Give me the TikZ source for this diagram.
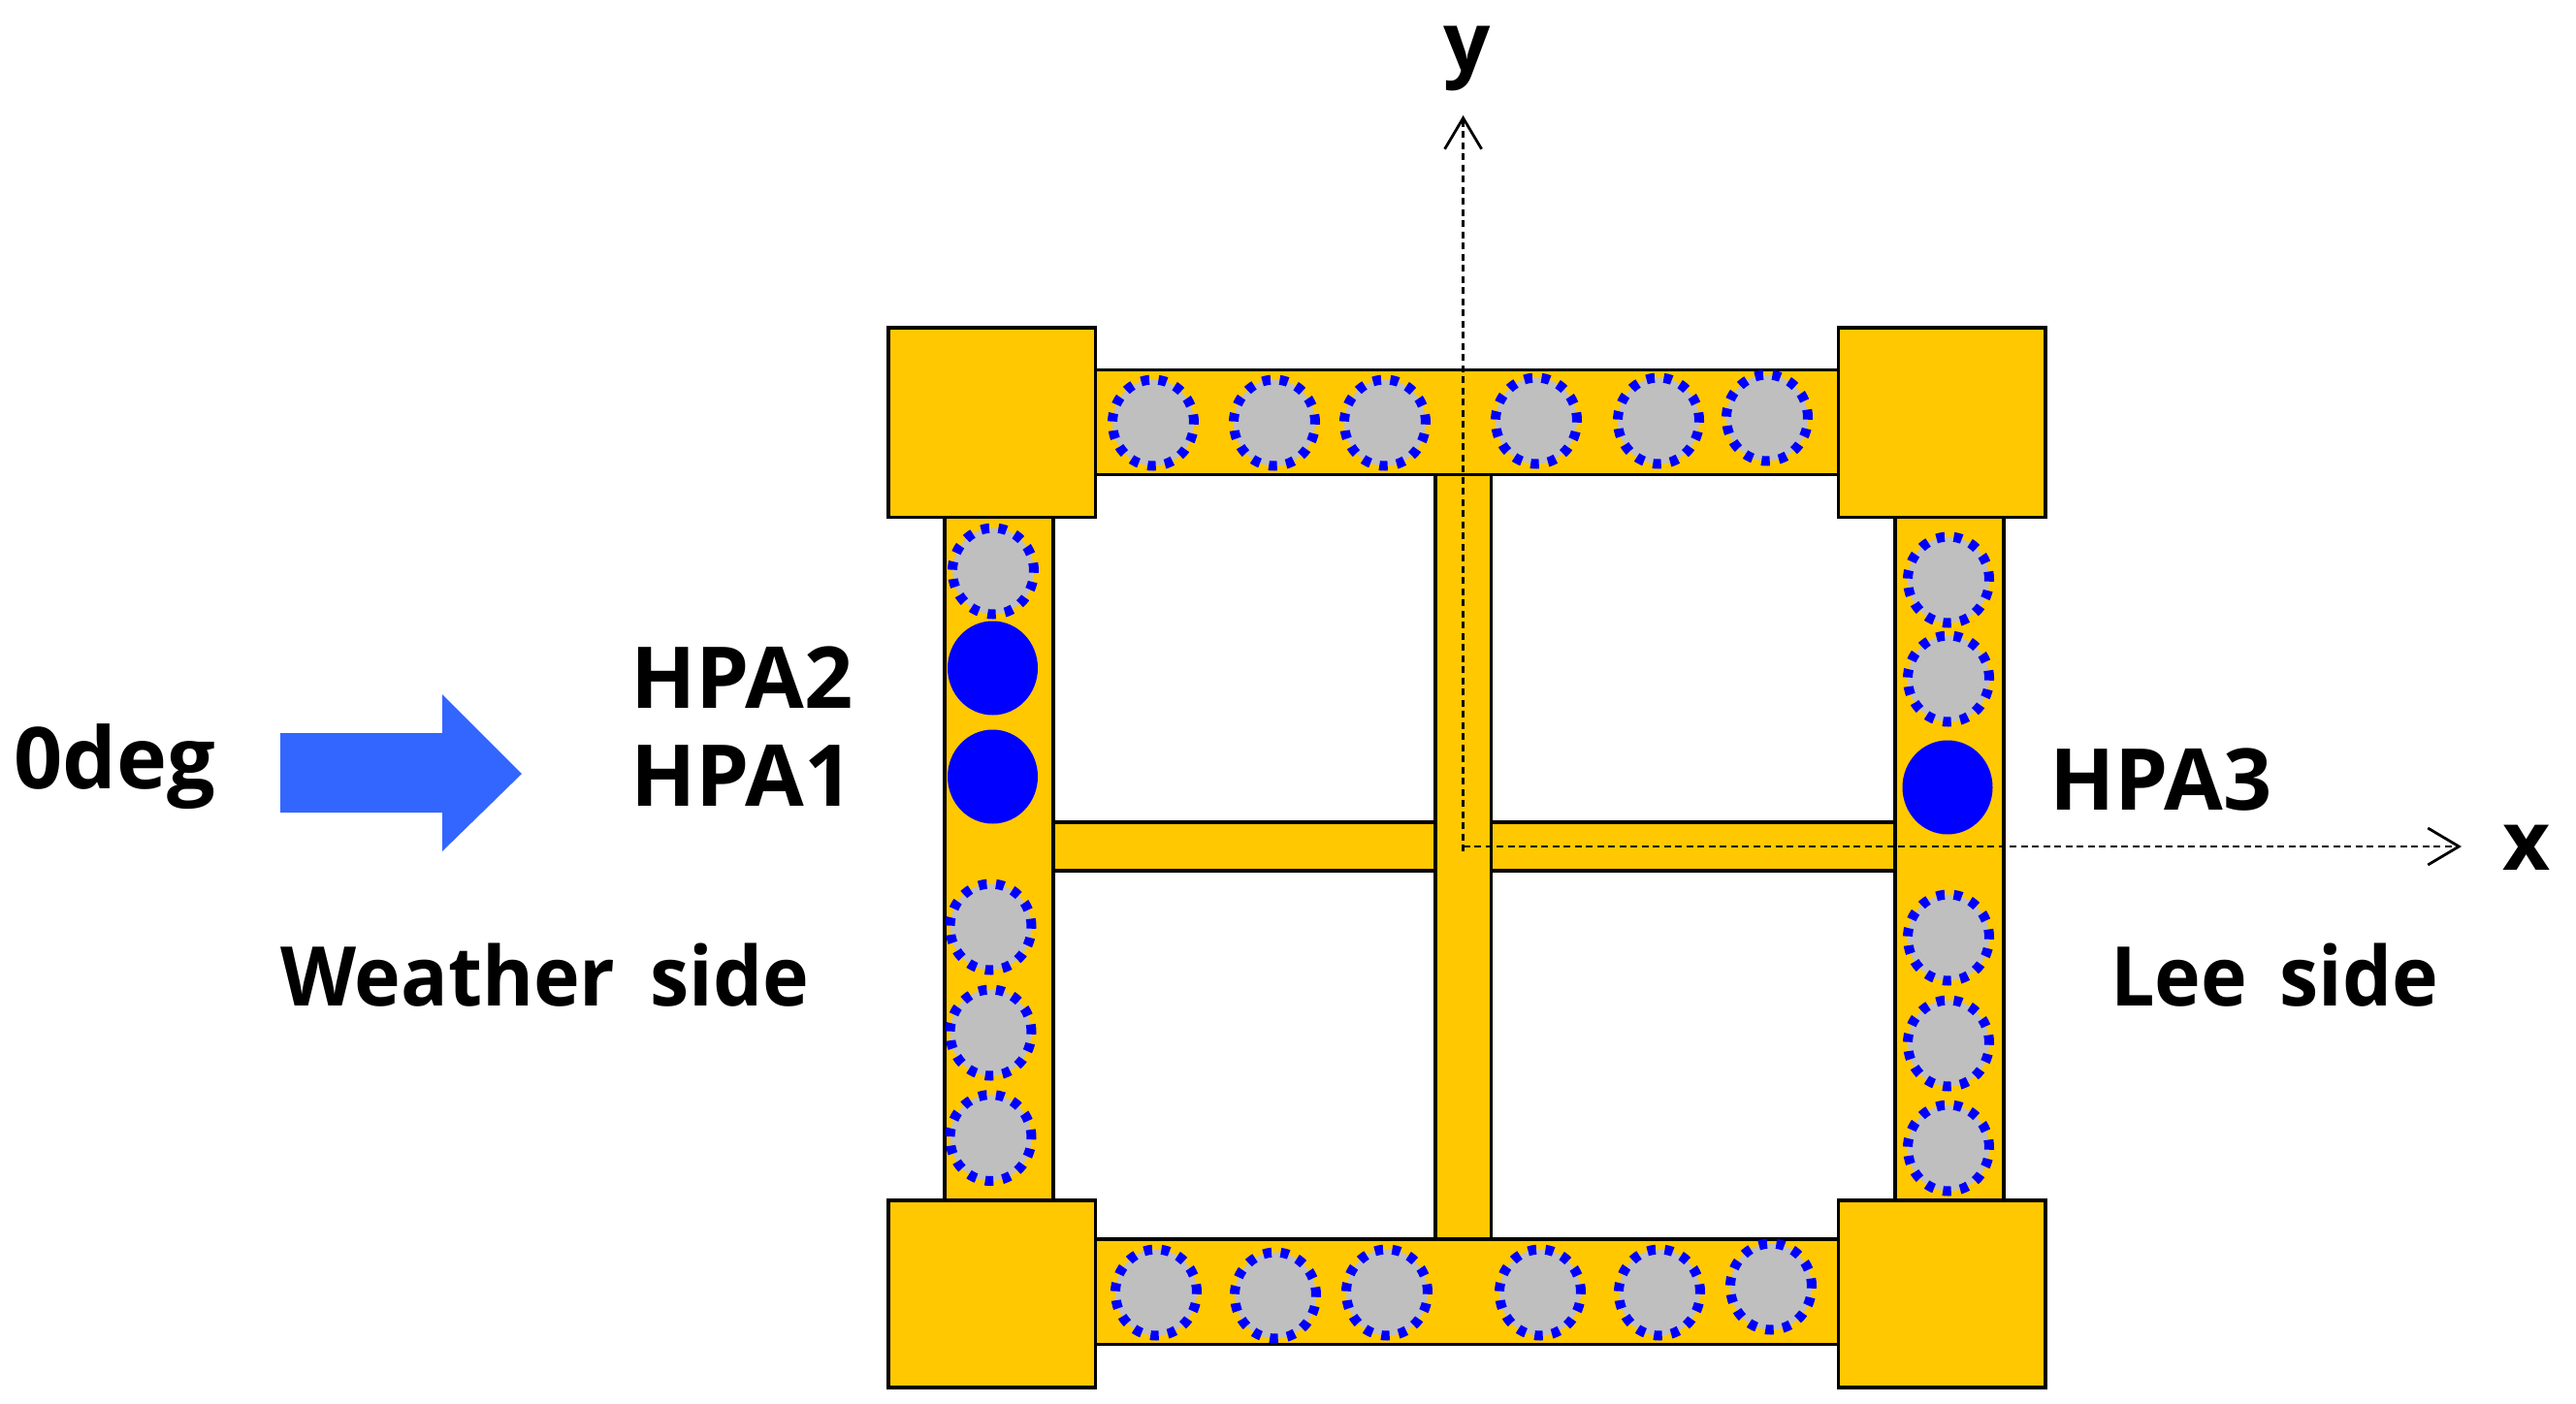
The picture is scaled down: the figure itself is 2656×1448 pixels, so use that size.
\documentclass[tikz,border=0pt]{standalone}
\usepackage{fontspec}
\setmainfont{Open Sans}
\newfontfamily\narrowface{Open Sans}[FakeStretch=0.95]
\usetikzlibrary{shapes.geometric,arrows.meta}
\definecolor{steel}{HTML}{FFC800}
\definecolor{pipegrey}{HTML}{BFBFBF}
\definecolor{flowblue}{HTML}{3366FF}
\tikzset{
  x=1pt,y=-1pt,
  member/.style={draw=black,line width=3.2pt,fill=steel},
  sensor/.style={ellipse,inner sep=0pt,minimum width=84pt,minimum height=89pt,fill=pipegrey,draw=blue,line width=10pt,dash pattern=on 8.5pt off 9.5pt},
  active/.style={ellipse,inner sep=0pt,minimum width=93pt,minimum height=97pt,fill=blue},
  lbl/.style={inner sep=0pt,anchor=base west,font=\fontsize{85}{85}\selectfont\bfseries},
  widelbl/.style={lbl,font=\fontsize{88}{88}\selectfont\bfseries},
  sidelbl/.style={lbl,font=\fontsize{85}{85}\narrowface\bfseries},
  axis/.style={draw=black,line width=2.4pt,dash pattern=on 7pt off 4.5pt},
  axishead/.style={-{Straight Barb[length=32pt,width=38pt,line width=2.8pt]}}
}
\begin{document}
\begin{tikzpicture}
\useasboundingbox (0,0) rectangle (2656,1448);
% horizontal braces
\draw[member] (1086,848) rectangle (1954,898);
% centre column
\draw[member] (1480,489) rectangle (1537.5,1278);
% long beams
\draw[member] (1129,381.5) rectangle (1895.5,489.5);
\draw[member] (1129,1278) rectangle (1895.5,1386.5);
\draw[member] (974,533) rectangle (1086,1238);
\draw[member] (1954,533) rectangle (2066,1238);
% corner blocks
\draw[member] (916,338) rectangle (1129.5,533.5);
\draw[member] (1895.5,338) rectangle (2109,533.5);
\draw[member] (916,1238) rectangle (1129.5,1431);
\draw[member] (1895.5,1238) rectangle (2109,1431);
% grey sensors
\foreach \n/\px/\py in {t1/1189/436,t2/1314/436,t3/1428/436,t4/1584/434,t5/1710/434,t6/1822/431,
  b1/1192/1333,b2/1315/1336,b3/1430/1333,b4/1588/1333,b5/1711/1333,b6/1826/1327,
  l1/1024/589,l2/1021.5/956,l3/1021.5/1065,l4/1021.5/1173.5,
  r1/2009/598,r2/2009/700,r3/2009/967,r4/2009/1076,r5/2009/1184}
  \node[sensor] (\n) at (\px,\py) {};
% active sensors
\node[active] (hpa2) at (1023.5,689) {};
\node[active] (hpa1) at (1023.5,801) {};
\node[active] (hpa3) at (2008,812) {};
% axes
\coordinate (ybase) at (1508.6,878);
\coordinate (ytip) at (1508.6,119);
\coordinate (xbase) at (1508.6,873);
\coordinate (xtip) at (2538,873);
\draw[axis,axishead] (ybase) -- (ytip);
\draw[axis,axishead] (xbase) -- (xtip);
% flow arrow
\fill[flowblue] (289,756) -- (456,756) -- (456,716) -- (538,798) -- (456,878) -- (456,838) -- (289,838) -- cycle;
% labels
\node[lbl] (ylab) at (1488,73) {y};
\node[lbl] (xlab) at (2580,897) {x};
\node[widelbl] (deg) at (14,813) {0deg};
\node[widelbl] (lab2) at (650,730) {HPA2};
\node[widelbl] (lab1) at (650,831) {HPA1};
\node[widelbl] (lab3) at (2113,835) {HPA3};
\node[sidelbl] (ws) at (289,1037) {Weather\hspace{15pt} side};
\node[sidelbl] (ls) at (2176,1037) {Lee\hspace{12pt} side};
\end{tikzpicture}
\end{document}
